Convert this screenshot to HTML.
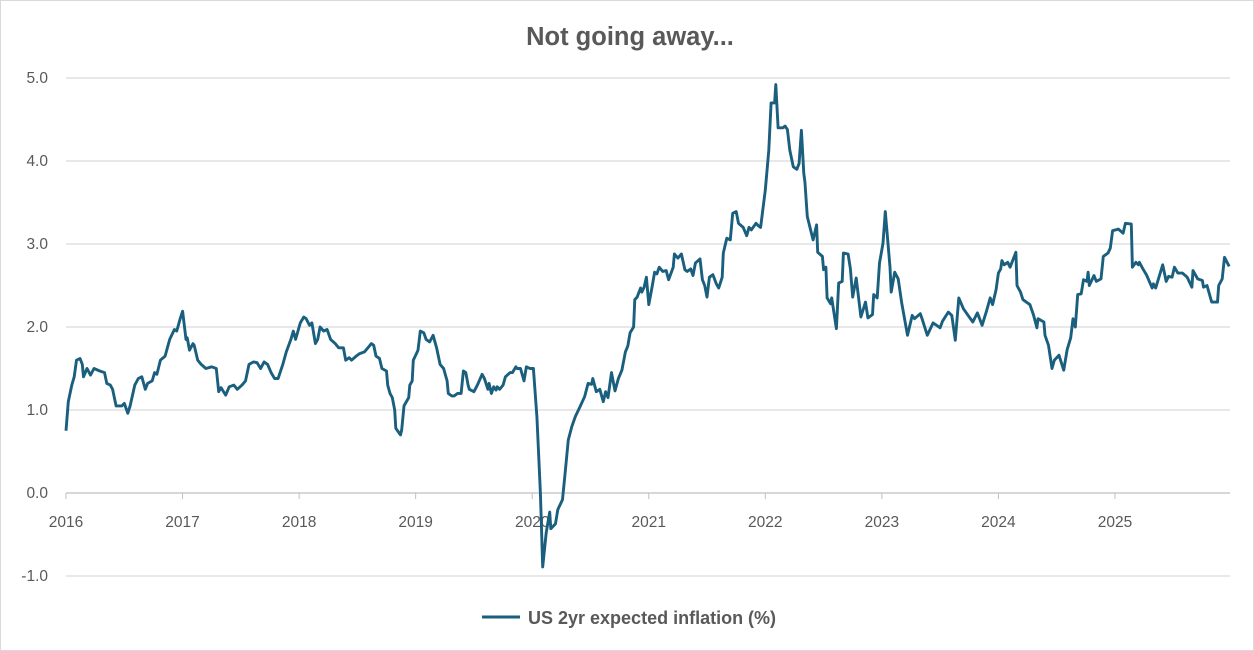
<!DOCTYPE html>
<html><head><meta charset="utf-8"><style>
html,body{margin:0;padding:0;background:#fff;}
svg{display:block;font-family:"Liberation Sans",sans-serif;}
</style></head><body>
<svg id="chart" width="1254" height="651">
<rect x="0.5" y="0.5" width="1253" height="650" fill="#fff" stroke="#d9d9d9"/>
<text x="630" y="45" text-anchor="middle" font-size="25.5" font-weight="bold" fill="#595959">Not going away...</text>
<g id="grid"></g><g id="yticks"></g><g id="xticks"></g><g id="series"></g>
<g>
<line x1="482" y1="617" x2="520" y2="617" stroke="#1a5f7e" stroke-width="3"/>
<text x="528" y="624" font-size="18" font-weight="bold" fill="#595959">US 2yr expected inflation (%)</text>
</g>
</svg>
<script>
const yTicks=[-1,0,1,2,3,4,5];
const xTickYears=[2016,2017,2018,2019,2020,2021,2022,2023,2024,2025];
const dates=[2016.00,2016.02,2016.05,2016.07,2016.09,2016.12,2016.14,2016.15,2016.18,2016.21,2016.24,2016.29,2016.33,2016.35,2016.38,2016.40,2016.43,2016.48,2016.50,2016.53,2016.55,2016.59,2016.62,2016.65,2016.68,2016.70,2016.74,2016.76,2016.78,2016.81,2016.85,2016.89,2016.93,2016.95,2016.98,
2017.00,2017.03,2017.04,2017.06,2017.09,2017.10,2017.13,2017.16,2017.20,2017.25,2017.29,2017.31,2017.33,2017.37,2017.40,2017.44,2017.47,2017.51,2017.54,2017.57,2017.61,2017.64,2017.67,2017.70,2017.73,2017.76,2017.79,2017.82,2017.86,2017.89,2017.93,2017.95,2017.97,
2018.01,2018.04,2018.06,2018.09,2018.11,2018.14,2018.16,2018.18,2018.21,2018.24,2018.27,2018.31,2018.34,2018.38,2018.40,2018.43,2018.45,2018.49,2018.52,2018.56,2018.59,2018.62,2018.64,2018.66,2018.69,2018.71,2018.75,2018.76,2018.78,2018.80,2018.82,2018.83,2018.87,2018.88,2018.90,2018.94,2018.95,2018.97,2018.98,
2019.02,2019.04,2019.07,2019.09,2019.12,2019.15,2019.18,2019.21,2019.24,2019.27,2019.28,2019.31,2019.33,2019.36,2019.39,2019.41,2019.43,2019.45,2019.46,2019.50,2019.53,2019.57,2019.59,2019.62,2019.63,2019.65,2019.67,2019.69,2019.70,2019.72,2019.75,2019.77,2019.81,2019.83,2019.86,2019.87,2019.90,2019.93,2019.95,2019.98,
2020.01,2020.04,2020.07,2020.09,2020.12,2020.15,2020.16,2020.20,2020.22,2020.26,2020.28,2020.31,2020.34,2020.37,2020.41,2020.45,2020.48,2020.51,2020.52,2020.55,2020.58,2020.61,2020.63,2020.65,2020.68,2020.71,2020.74,2020.77,2020.80,2020.82,2020.84,2020.87,2020.88,2020.90,2020.93,2020.94,2020.96,2020.98,
2021.00,2021.03,2021.05,2021.07,2021.09,2021.12,2021.15,2021.17,2021.21,2021.22,2021.25,2021.28,2021.31,2021.33,2021.36,2021.38,2021.40,2021.44,2021.46,2021.48,2021.50,2021.52,2021.55,2021.58,2021.60,2021.63,2021.64,2021.67,2021.70,2021.72,2021.75,2021.77,2021.81,2021.84,2021.86,2021.88,2021.92,2021.94,2021.96,
2022.00,2022.03,2022.05,2022.08,2022.09,2022.11,2022.15,2022.17,2022.19,2022.21,2022.24,2022.27,2022.29,2022.31,2022.33,2022.34,2022.36,2022.41,2022.44,2022.45,2022.49,2022.50,2022.52,2022.53,2022.56,2022.57,2022.61,2022.63,2022.66,2022.67,2022.71,2022.73,2022.75,2022.78,2022.82,2022.86,2022.88,2022.92,2022.93,2022.96,2022.98,
2023.01,2023.03,2023.07,2023.08,2023.11,2023.14,2023.17,2023.22,2023.26,2023.28,2023.33,2023.35,2023.39,2023.44,2023.47,2023.50,2023.52,2023.57,2023.60,2023.63,2023.66,2023.70,2023.74,2023.78,2023.82,2023.86,2023.90,2023.93,2023.95,2023.98,
2024.00,2024.02,2024.03,2024.05,2024.08,2024.10,2024.15,2024.16,2024.19,2024.21,2024.25,2024.27,2024.30,2024.33,2024.34,2024.39,2024.40,2024.43,2024.46,2024.48,2024.52,2024.56,2024.59,2024.62,2024.64,2024.66,2024.68,2024.71,2024.73,2024.76,2024.77,2024.78,2024.82,2024.84,2024.88,2024.90,2024.94,2024.96,2024.98,
2025.03,2025.07,2025.09,2025.14,2025.15,2025.18,2025.20,2025.21,2025.24,2025.27,2025.32,2025.33,2025.35,2025.41,2025.44,2025.46,2025.49,2025.51,2025.54,2025.58,2025.62,2025.66,2025.67,2025.71,2025.75,2025.76,2025.79,2025.83,2025.88,2025.89,2025.92,2025.94,2025.98];
const values=[0.75,1.1,1.3,1.4,1.6,1.62,1.55,1.4,1.5,1.42,1.5,1.47,1.45,1.32,1.3,1.25,1.05,1.05,1.08,0.96,1.05,1.3,1.38,1.4,1.25,1.32,1.35,1.45,1.43,1.6,1.65,1.85,1.97,1.95,2.1,
2.19,1.85,1.87,1.72,1.8,1.78,1.6,1.55,1.5,1.52,1.5,1.22,1.27,1.18,1.28,1.3,1.25,1.3,1.35,1.55,1.58,1.57,1.5,1.58,1.55,1.45,1.38,1.38,1.55,1.7,1.85,1.95,1.85,
2.05,2.12,2.1,2.02,2.05,1.8,1.85,2.0,1.95,1.97,1.85,1.8,1.75,1.75,1.6,1.63,1.6,1.65,1.68,1.7,1.75,1.8,1.78,1.65,1.62,1.5,1.47,1.3,1.2,1.15,1.0,0.78,0.7,0.76,1.05,1.15,1.3,1.35,1.6,
1.72,1.95,1.93,1.85,1.82,1.9,1.75,1.55,1.5,1.35,1.2,1.17,1.17,1.2,1.2,1.47,1.45,1.3,1.25,1.22,1.3,1.43,1.38,1.25,1.32,1.2,1.28,1.24,1.28,1.25,1.3,1.4,1.45,1.45,1.52,1.5,1.5,1.35,1.52,1.5,
1.5,0.92,0.0,-0.89,-0.48,-0.23,-0.43,-0.37,-0.2,-0.08,0.2,0.64,0.8,0.92,1.04,1.16,1.32,1.31,1.38,1.22,1.25,1.1,1.22,1.15,1.45,1.23,1.38,1.48,1.7,1.77,1.93,2.0,2.33,2.36,2.47,2.42,2.48,2.6,
2.27,2.49,2.66,2.64,2.72,2.67,2.68,2.57,2.72,2.88,2.83,2.88,2.69,2.67,2.7,2.62,2.77,2.82,2.57,2.5,2.36,2.6,2.63,2.52,2.47,2.6,2.89,3.07,3.05,3.37,3.39,3.25,3.2,3.1,3.2,3.17,3.25,3.22,3.2,
3.65,4.13,4.7,4.7,4.92,4.4,4.4,4.42,4.38,4.13,3.93,3.9,3.97,4.37,3.85,3.75,3.33,3.05,3.23,2.9,2.85,2.69,2.72,2.35,2.28,2.35,1.98,2.53,2.55,2.89,2.88,2.7,2.36,2.59,2.12,2.3,2.11,2.15,2.39,2.35,2.77,
3.01,3.39,2.72,2.42,2.66,2.58,2.29,1.9,2.14,2.1,2.16,2.08,1.9,2.05,2.02,1.99,2.07,2.18,2.14,1.84,2.35,2.22,2.14,2.06,2.17,2.02,2.2,2.35,2.27,2.45,
2.65,2.7,2.8,2.75,2.78,2.72,2.9,2.5,2.42,2.33,2.29,2.27,2.15,1.99,2.1,2.06,1.9,1.78,1.5,1.6,1.66,1.48,1.73,1.87,2.1,2.0,2.39,2.4,2.57,2.55,2.66,2.5,2.62,2.55,2.58,2.85,2.89,2.95,3.16,
3.18,3.13,3.25,3.24,2.72,2.78,2.75,2.78,2.7,2.63,2.47,2.52,2.47,2.75,2.55,2.61,2.6,2.72,2.65,2.65,2.6,2.48,2.68,2.58,2.56,2.48,2.5,2.3,2.3,2.5,2.58,2.84,2.73];

const NS='http://www.w3.org/2000/svg';
const X0=66,X1=1230,Y0=493,PXU=83,PXY=116.55;
function xs(t){return X0+(t-2016)*PXY;}
function ys(v){return Y0-v*PXU;}
const grid=document.getElementById('grid'),yt=document.getElementById('yticks'),xt=document.getElementById('xticks'),ser=document.getElementById('series');
yTicks.forEach(v=>{
  if(v!==0){const l=document.createElementNS(NS,'line');
  l.setAttribute('x1',X0);l.setAttribute('x2',X1);l.setAttribute('y1',ys(v));l.setAttribute('y2',ys(v));
  l.setAttribute('stroke','#d9d9d9');l.setAttribute('stroke-width','1.3');
  
  
  grid.appendChild(l);}
  const t=document.createElementNS(NS,'text');
  t.setAttribute('x',48);t.setAttribute('y',ys(v)+5);t.setAttribute('text-anchor','end');
  t.setAttribute('font-size','15.5');t.setAttribute('fill','#595959');
  t.textContent=v.toFixed(1);
  
  
  yt.appendChild(t);
});
const ax=document.createElementNS(NS,'line');
ax.setAttribute('x1',X0);ax.setAttribute('x2',X1);ax.setAttribute('y1',Y0);ax.setAttribute('y2',Y0);
ax.setAttribute('stroke','#bfbfbf');ax.setAttribute('stroke-width','1.3');


xt.appendChild(ax);
xTickYears.forEach(y=>{
  const tk=document.createElementNS(NS,'line');
  tk.setAttribute('x1',xs(y));tk.setAttribute('x2',xs(y));tk.setAttribute('y1',Y0);tk.setAttribute('y2',Y0+6);
  tk.setAttribute('stroke','#bfbfbf');
  
  
  xt.appendChild(tk);
  const t=document.createElementNS(NS,'text');
  t.setAttribute('x',xs(y));t.setAttribute('y',527);t.setAttribute('text-anchor','middle');
  t.setAttribute('font-size','15.5');t.setAttribute('fill','#595959');
  t.textContent=y;
  
  
  xt.appendChild(t);
});
let d='';
dates.forEach((t,i)=>{d+=(i?'L':'M')+xs(t).toFixed(1)+' '+ys(values[i]).toFixed(1);});
const p=document.createElementNS(NS,'path');
p.setAttribute('d',d);p.setAttribute('fill','none');p.setAttribute('stroke','#1a5f7e');
p.setAttribute('stroke-width','2.9');p.setAttribute('stroke-linejoin','round');


ser.appendChild(p);
</script>
</body></html>
